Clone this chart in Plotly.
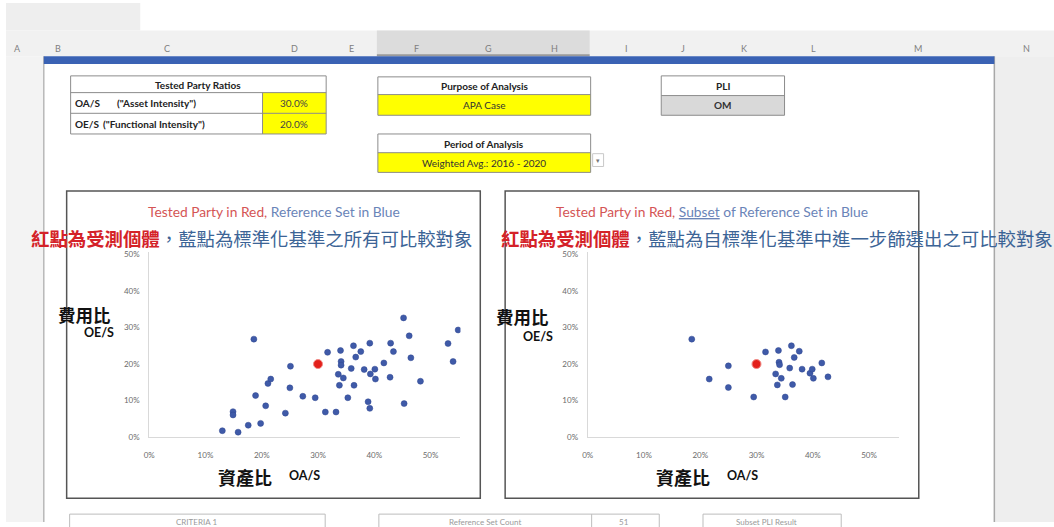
import plotly.graph_objects as go

W, H = 1054, 527

# Tested party ratios (OA/S, OE/S)
tested_oa = [0.30]
tested_oe = [0.20]

# Full reference set
ref_oa = [0.130, 0.149, 0.149, 0.158, 0.176, 0.189, 0.186, 0.198, 0.207, 0.211,
          0.216, 0.242, 0.250, 0.251, 0.273, 0.295, 0.313, 0.317, 0.332, 0.336,
          0.338, 0.340, 0.341, 0.341, 0.345, 0.353, 0.359, 0.363, 0.364, 0.367,
          0.376, 0.382, 0.389, 0.392, 0.392, 0.393, 0.401, 0.402, 0.417, 0.429,
          0.428, 0.434, 0.452, 0.453, 0.462, 0.465, 0.482, 0.531, 0.540, 0.549]
ref_oe = [0.018, 0.070, 0.061, 0.014, 0.033, 0.114, 0.268, 0.038, 0.086, 0.147,
          0.159, 0.066, 0.135, 0.194, 0.112, 0.108, 0.069, 0.232, 0.069, 0.172,
          0.142, 0.237, 0.207, 0.197, 0.162, 0.108, 0.188, 0.250, 0.142, 0.219,
          0.234, 0.185, 0.097, 0.079, 0.257, 0.173, 0.186, 0.159, 0.203, 0.257,
          0.164, 0.234, 0.326, 0.092, 0.277, 0.217, 0.153, 0.256, 0.207, 0.293]

# Subset of the reference set
sub_oa = [0.185, 0.216, 0.250, 0.250, 0.295, 0.316, 0.334, 0.339, 0.340, 0.341,
          0.337, 0.344, 0.351, 0.359, 0.362, 0.364, 0.367, 0.376, 0.381, 0.395,
          0.399, 0.401, 0.416, 0.427]
sub_oe = [0.268, 0.159, 0.195, 0.136, 0.110, 0.233, 0.173, 0.237, 0.205, 0.198,
          0.143, 0.161, 0.110, 0.189, 0.250, 0.144, 0.218, 0.235, 0.186, 0.175,
          0.186, 0.161, 0.203, 0.165]

tick_vals = [0.0, 0.1, 0.2, 0.3, 0.4, 0.5]
tick_text = ["0%", "10%", "20%", "30%", "40%", "50%"]

col_letters = ["A", "B", "C", "D", "E", "F", "G", "H", "I", "J", "K", "L", "M", "N"]
col_centers = [12, 52, 162, 290, 347, 413, 485, 552, 624, 681, 742, 812, 917, 1026]

ratio_labels = ["OA/S", "OE/S"]
ratio_names = ['("Asset Intensity")', '("Functional Intensity")']
ratio_values = ["30.0%", "20.0%"]

LATIN = "Lato"
CJK = "Noto Sans CJK TC"
BLUE_DOT = "#3f5aa8"
RED_DOT = "#e3201b"
CN_RED = "#d42228"
CN_BLUE = "#3c6496"
TBL = 10


def fx(x):
    return x / W


def fy(y):
    return 1 - y / H


shapes = []
annotations = []


def rect(x0, y0, x1, y1, fill=None, line=None, lw=1, layer="below"):
    shapes.append(dict(type="rect", xref="paper", yref="paper",
                       x0=fx(x0), x1=fx(x1), y0=fy(y0), y1=fy(y1),
                       fillcolor=fill if fill else "rgba(0,0,0,0)",
                       line=dict(color=line if line else "rgba(0,0,0,0)",
                                 width=lw if line else 0),
                       layer=layer))


def hline(x0, x1, y, color, lw=1):
    shapes.append(dict(type="line", xref="paper", yref="paper",
                       x0=fx(x0), x1=fx(x1), y0=fy(y), y1=fy(y),
                       line=dict(color=color, width=lw), layer="below"))


def vline(x, y0, y1, color, lw=1):
    shapes.append(dict(type="line", xref="paper", yref="paper",
                       x0=fx(x), x1=fx(x), y0=fy(y0), y1=fy(y1),
                       line=dict(color=color, width=lw), layer="below"))


def text(t, x, y, size, color="#222222", family=LATIN, anchor="center"):
    annotations.append(dict(text=t, x=fx(x), y=fy(y), xref="paper", yref="paper",
                            xanchor=anchor, yanchor="middle", showarrow=False,
                            font=dict(size=size, color=color, family=family)))


# ---- spreadsheet chrome ----
rect(0, 0, 135, 28, fill="#eeeeee")
rect(0, 28, W, 54, fill="#f1f1f1")
rect(373, 28, 587, 54, fill="#dcdcdc")
hline(373, 587, 53, "#9a9a9a", 2)
rect(0, 54, 38, H, fill="#f3f3f3")
rect(994, 54, W, H, fill="#eeeeee")
vline(38, 54, H, "#b8b8b8", 1.5)
vline(994, 54, H, "#a8a8a8", 1.5)
rect(38, 54, 994, 62, fill="#3a62b4")

for letter, cx in zip(col_letters, col_centers):
    text(letter, cx, 46, 9, "#7f7f7f")

# ---- Tested Party Ratios table ----
rect(258, 91, 322, 133, fill="#ffff00")
rect(65, 74, 322, 133, line="#8c8c8c", lw=1)
hline(65, 322, 91, "#8c8c8c")
hline(65, 322, 112, "#8c8c8c")
vline(258, 91, 133, "#8c8c8c")
text("<b>Tested Party Ratios</b>", 193, 83, TBL)
name_left = [110, 96]
for i, (lab, name, val) in enumerate(zip(ratio_labels, ratio_names, ratio_values)):
    yc = 101.5 + i * 21
    text("<b>" + lab + "</b>", 67, yc, TBL, anchor="left")
    text("<b>" + name + "</b>", name_left[i], yc, TBL, anchor="left")
    text(val, 290, yc, TBL, "#444444")

# ---- Purpose / Period boxes ----
rect(374, 93, 588, 114, fill="#ffff00")
rect(374, 75, 588, 114, line="#8c8c8c")
hline(374, 588, 93, "#8c8c8c")
text("<b>Purpose of Analysis</b>", 481, 84, TBL)
text("APA Case", 481, 103.5, TBL, "#333333")

rect(374, 152, 588, 172, fill="#ffff00")
rect(374, 133, 588, 172, line="#8c8c8c")
hline(374, 588, 152, "#8c8c8c")
text("<b>Period of Analysis</b>", 481, 143, TBL)
text("Weighted Avg.: 2016 - 2020", 481, 162, TBL, "#333333")
rect(590, 153, 601, 166, fill="#ffffff", line="#c8c8c8")
text("▾", 595.5, 159.5, 7, "#777777")

# ---- PLI box ----
rect(659, 94, 783, 114, fill="#d9d9d9")
rect(659, 74, 783, 114, line="#8c8c8c")
hline(659, 783, 94, "#8c8c8c")
text("<b>PLI</b>", 721, 84, TBL)
text("<b>OM</b>", 721, 104, TBL, "#333333")

# ---- chart frames ----
rect(61, 191, 477, 503, line="#555555", lw=1.5)
rect(502, 191, 918, 503, line="#555555", lw=1.5)

# ---- bottom row of boxes (partly visible) ----
rect(64, 519, 321, 545, line="#bdbdbd")
rect(375, 519, 657, 545, line="#bdbdbd")
vline(589, 519, 545, "#bdbdbd")
rect(701, 519, 840, 545, line="#bdbdbd")
text("CRITERIA 1", 192, 527, 8, "#9a9a9a")
text("Reference Set Count", 482, 527, 8, "#9a9a9a")
text("51", 622, 527, 8, "#9a9a9a")
text("Subset PLI Result", 765, 527, 8, "#9a9a9a")

# ---- chart titles ----
text("<span style='color:#d45555'>Tested Party in Red,</span> "
     "<span style='color:#6a84b8'>Reference Set in Blue</span>",
     270, 212, 13.8)
text("<span style='color:#d45555'>Tested Party in Red,</span> "
     "<span style='color:#6a84b8;text-decoration:underline'>Subset</span>"
     "<span style='color:#6a84b8'> of Reference Set in Blue</span>",
     710, 212, 13.8)

text(f"<b><span style='color:{CN_RED}'>紅點為受測個體</span></b>"
     f"<span style='color:{CN_BLUE}'>，藍點為標準化基準之所有可比較對象</span>",
     246.5, 239, 18.4, family=CJK)
text(f"<b><span style='color:{CN_RED}'>紅點為受測個體</span></b>"
     f"<span style='color:{CN_BLUE}'>，藍點為自標準化基準中進一步篩選出之可比較對象</span>",
     775.5, 239, 18.4, family=CJK)

# ---- axis titles ----
for dx, (ya, yb) in zip([0, 441], [(316, 335), (318, 339)]):
    text("<b>費用比</b>", 50 + dx, ya, 17.5, "#111111", CJK, anchor="left")
    text("<b>OE/S</b>", 111 + dx, yb, 12.5, "#111111", anchor="right")
    text("<b>資產比</b>", 240 + dx, 481, 18, "#111111", CJK)
    text("<b>OA/S</b>", 300 + dx, 480, 12.5, "#111111")

# ---- scatter traces ----
fig = go.Figure()

dot_blue = dict(size=6, color=BLUE_DOT, line=dict(width=0.5, color="#2f4690"))
dot_red = dict(size=9, color=RED_DOT, line=dict(width=1, color="#f08a86"))

fig.add_trace(go.Scatter(x=ref_oa, y=ref_oe, mode="markers", marker=dot_blue,
                         xaxis="x", yaxis="y", showlegend=False))
fig.add_trace(go.Scatter(x=tested_oa, y=tested_oe, mode="markers", marker=dot_red,
                         xaxis="x", yaxis="y", showlegend=False))
fig.add_trace(go.Scatter(x=sub_oa, y=sub_oe, mode="markers", marker=dot_blue,
                         xaxis="x2", yaxis="y2", showlegend=False))
fig.add_trace(go.Scatter(x=tested_oa, y=tested_oe, mode="markers", marker=dot_red,
                         xaxis="x2", yaxis="y2", showlegend=False))

tick_font = dict(size=8, color="#6b6b6b", family=LATIN)
xax = dict(range=[0, 0.553], tickvals=tick_vals, ticktext=tick_text,
           showgrid=False, zeroline=False, showline=True, linecolor="#d9d9d9",
           linewidth=1, ticks="", tickfont=tick_font, ticklabelstandoff=10,
           fixedrange=True)
yax = dict(range=[0, 0.5054], tickvals=tick_vals, ticktext=tick_text,
           showgrid=False, zeroline=False, showline=True, linecolor="#d9d9d9",
           linewidth=1, ticks="", tickfont=tick_font, ticklabelstandoff=7,
           fixedrange=True)

fig.update_layout(
    width=W, height=H,
    margin=dict(l=0, r=0, t=0, b=0),
    paper_bgcolor="#ffffff", plot_bgcolor="rgba(0,0,0,0)",
    xaxis=dict(domain=[fx(144), fx(457)], anchor="y", **xax),
    yaxis=dict(domain=[fy(441), fy(253)], anchor="x", **yax),
    xaxis2=dict(domain=[fx(585), fx(898)], anchor="y2", **xax),
    yaxis2=dict(domain=[fy(441), fy(253)], anchor="x2", **yax),
    shapes=shapes,
    annotations=annotations,
)

# page body without default margins so the figure sits at the window origin
fig.write_html("out.html",
               post_script="document.body.style.margin='0';"
                           "document.documentElement.style.overflow='hidden';")
